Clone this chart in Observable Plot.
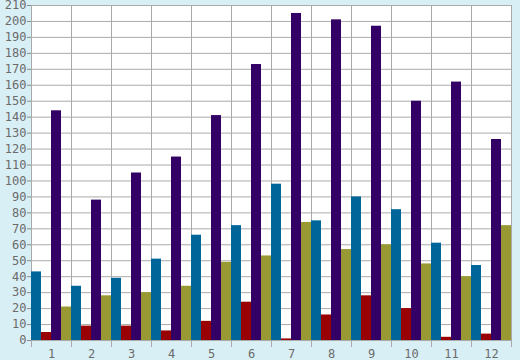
<!DOCTYPE html>
<html>
<head>
<meta charset="utf-8">
<script src="https://cdn.jsdelivr.net/npm/d3@7"></script>
<script src="https://cdn.jsdelivr.net/npm/@observablehq/plot@0.6"></script>
<style>
  html, body { margin: 0; padding: 0; background: #d9eff6; }
  svg { display: block; }
</style>
</head>
<body>
<div id="chart"></div>
<script>
const months = ["1","2","3","4","5","6","7","8","9","10","11","12"];
const seriesNames = ["S1", "S2", "S3", "S4"];
const seriesColors = ["#006699", "#990000", "#330066", "#999933"];
const s1Values = [43, 34, 39, 51, 66, 72, 98, 75, 90, 82, 61, 47];
const s2Values = [5, 9, 9, 6, 12, 24, 1, 16, 28, 20, 2, 4];
const s3Values = [144, 88, 105, 115, 141, 173, 205, 201, 197, 150, 162, 126];
const s4Values = [21, 28, 30, 34, 49, 53, 74, 57, 60, 48, 40, 72];
const yTicks = d3.range(0, 211, 10);

const allValues = [s1Values, s2Values, s3Values, s4Values];
const data = [];
months.forEach((m, i) => {
  seriesNames.forEach((s, j) => data.push({month: m, series: s, value: allValues[j][i]}));
});

const grid = "#aaaaaa";
const textColor = "#6b6b6b";

const chart = Plot.plot({
  width: 520,
  height: 360,
  marginLeft: 26,
  marginRight: 5,
  marginTop: 5,
  marginBottom: 20,
  style: {background: "#d9eff6", fontFamily: "'DejaVu Sans Mono', monospace", fontSize: "12px", color: textColor},
  fx: {domain: months, padding: 0},
  x: {domain: seriesNames, padding: 0, axis: null},
  y: {domain: [0, 210]},
  color: {domain: seriesNames, range: seriesColors},
  marks: [
    Plot.frame({fill: "white", stroke: "none"}),
    Plot.ruleY(yTicks, {stroke: grid, strokeWidth: 1, strokeOpacity: 1}),
    Plot.frame({anchor: "left", stroke: grid, strokeOpacity: 1, insetBottom: -6}),
    Plot.frame({anchor: "right", stroke: grid, strokeOpacity: 1, insetBottom: -6}),
    Plot.barY(data, {fx: "month", x: "series", y: "value", fill: "series"}),
    Plot.axisY({ticks: yTicks, tickSize: 4, tickPadding: 1, label: null, stroke: "#888", color: textColor}),
    Plot.axisFx({anchor: "bottom", tickSize: 0, tickPadding: 9, label: null, color: textColor})
  ]
});
document.getElementById("chart").appendChild(chart);
</script>
</body>
</html>
